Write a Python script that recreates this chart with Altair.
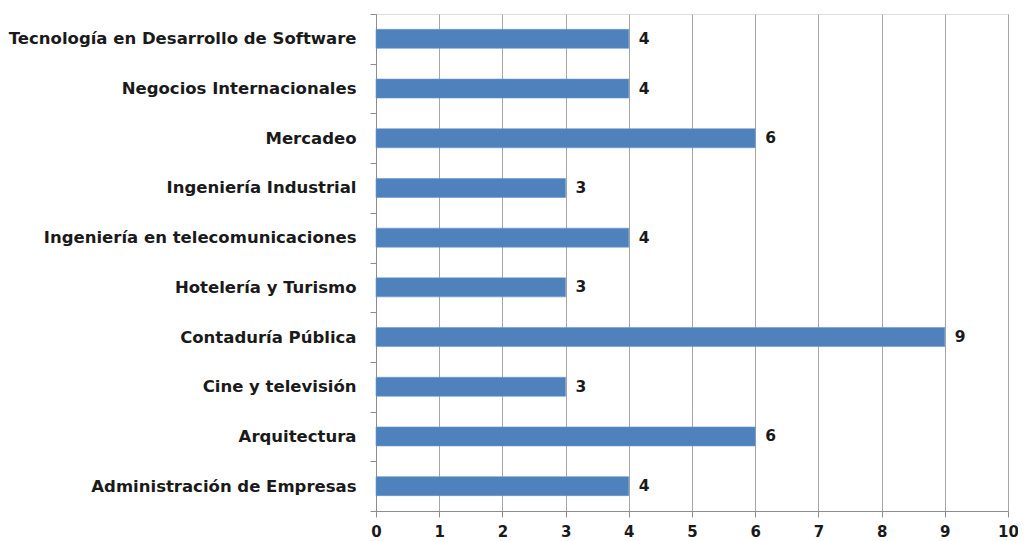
import altair as alt
import pandas as pd

careers = [
    "Tecnología en Desarrollo de Software",
    "Negocios Internacionales",
    "Mercadeo",
    "Ingeniería Industrial",
    "Ingeniería en telecomunicaciones",
    "Hotelería y Turismo",
    "Contaduría  Pública",
    "Cine y televisión",
    "Arquitectura",
    "Administración de Empresas",
]
counts = [4, 4, 6, 3, 4, 3, 9, 3, 6, 4]
x_ticks = list(range(0, 11))

df = pd.DataFrame({"carrera": careers, "n": counts})

FONT = "DejaVu Sans"

y_enc = alt.Y(
    "carrera:N",
    sort=careers,
    title=None,
    scale=alt.Scale(paddingInner=0, paddingOuter=0),
    axis=alt.Axis(
        tickBand="extent",
        tickSize=6,
        tickColor="#8c8c8c",
        domainColor="#8c8c8c",
        labelPadding=14,
        labelFont=FONT,
        labelFontSize=16.5,
        labelFontWeight="bold",
        labelColor="#1a1a1a",
        labelLimit=400,
        grid=False,
    ),
)

x_enc = alt.X(
    "n:Q",
    title=None,
    scale=alt.Scale(domain=[0, 10], nice=False),
    axis=alt.Axis(
        values=x_ticks,
        format="d",
        tickSize=6,
        tickColor="#8c8c8c",
        domainColor="#8c8c8c",
        gridColor="#a6a6a6",
        gridWidth=1,
        labelPadding=7,
        labelFont=FONT,
        labelFontSize=15,
        labelFontWeight="bold",
        labelColor="#1a1a1a",
        labelFlush=False,
    ),
)

bars = alt.Chart(df).mark_bar(size=19, color="#4F81BD", stroke="#6a97cc", strokeWidth=0.6).encode(
    x=x_enc, y=y_enc
)

text = alt.Chart(df).mark_text(
    align="left", baseline="middle", dx=10, font=FONT, fontSize=15.5, fontWeight="bold", color="#1a1a1a"
).encode(x="n:Q", y=alt.Y("carrera:N", sort=careers), text="n:Q")

chart = (
    alt.layer(bars, text)
    .properties(
        width=632,
        height=497,
        autosize=alt.AutoSizeParams(type="none"),
        padding={"left": 368, "top": 6, "right": 10, "bottom": 28},
    )
    .configure_view(stroke=None)
    .configure(background="white")
)

chart.save("out.html", embed_options={"renderer": "svg", "actions": False})
